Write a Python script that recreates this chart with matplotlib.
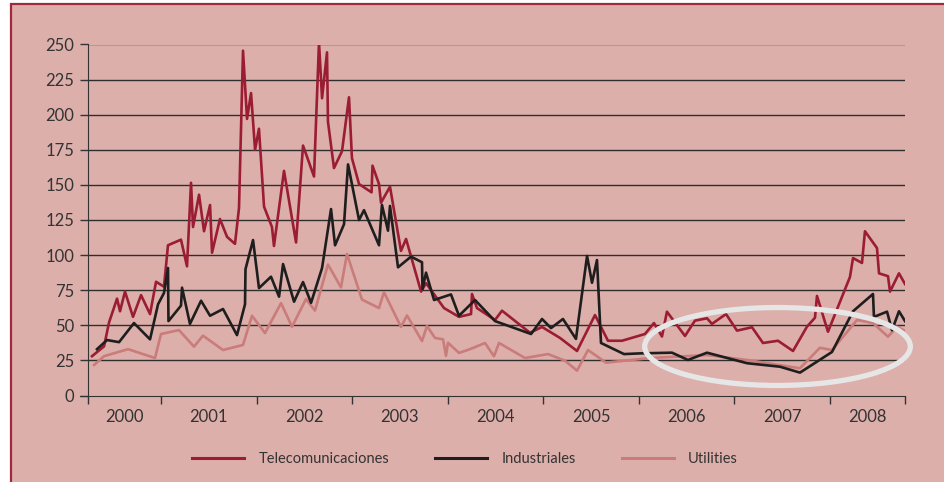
import numpy as np
import matplotlib
matplotlib.use("Agg")
import matplotlib.pyplot as plt
from matplotlib.patches import Ellipse, Rectangle
from matplotlib.lines import Line2D

# fechas en años decimales
tel_x = [2000.278, 2000.404, 2000.456, 2000.540, 2000.571, 2000.623, 2000.707, 2000.791,
         2000.885, 2000.948, 2001.031, 2001.073, 2001.209, 2001.272, 2001.314, 2001.335,
         2001.398, 2001.450, 2001.513, 2001.534, 2001.617, 2001.691, 2001.774, 2001.816,
         2001.858, 2001.900, 2001.942, 2001.984, 2002.025, 2002.078, 2002.161, 2002.182,
         2002.287, 2002.413, 2002.486, 2002.601, 2002.653, 2002.685, 2002.737, 2002.747,
         2002.810, 2002.894, 2002.967, 2002.998, 2003.072, 2003.203, 2003.213, 2003.281,
         2003.302, 2003.396, 2003.511, 2003.564, 2003.721, 2003.773, 2003.961, 2004.118,
         2004.244, 2004.254, 2004.306, 2004.495, 2004.568, 2004.861, 2004.987, 2005.175,
         2005.353, 2005.541, 2005.677, 2005.824, 2006.064, 2006.158, 2006.242, 2006.294,
         2006.483, 2006.587, 2006.713, 2006.765, 2006.912, 2007.027, 2007.184, 2007.299,
         2007.456, 2007.613, 2007.759, 2007.843, 2007.864, 2007.979, 2008.209, 2008.241,
         2008.335, 2008.366, 2008.492, 2008.513, 2008.607, 2008.628, 2008.722, 2008.785]
tel_y = [28, 35, 52, 69, 60, 74, 56, 71.5,
         58, 81, 77.5, 107, 111, 92, 151.5, 120,
         143, 117, 135.7, 101.7, 125.7, 113, 108, 133.5,
         245.6, 197, 215.4, 175, 190, 134.5, 120, 106.5,
         160, 109, 178, 156, 251.5, 211.7, 244.4, 195,
         162, 174, 212.4, 169, 150.6, 144.7, 163.7, 150.6,
         137.3, 148.7, 103, 111.5, 74, 80, 62.3, 56,
         58, 72.3, 62.3, 53.8, 60.4, 44.7, 48.8, 41,
         31.7, 57.3, 39, 39, 43.8, 51.6, 42, 59.7,
         42.4, 53.3, 55, 51, 58, 46.2, 48.6, 37.4,
         39, 31.7, 49, 55.4, 70.9, 45.4, 84.4, 97.9,
         94.4, 117, 105, 87, 85, 74, 87, 79.4]

ind_x = [2000.330, 2000.435, 2000.561, 2000.717, 2000.885, 2000.969, 2001.031, 2001.073,
         2001.078, 2001.209, 2001.220, 2001.303, 2001.419, 2001.513, 2001.649, 2001.795,
         2001.879, 2001.884, 2001.963, 2002.025, 2002.151, 2002.235, 2002.277, 2002.392,
         2002.486, 2002.570, 2002.685, 2002.779, 2002.821, 2002.915, 2002.957, 2003.072,
         2003.124, 2003.281, 2003.312, 2003.375, 2003.396, 2003.480, 2003.616, 2003.731,
         2003.736, 2003.773, 2003.857, 2004.034, 2004.118, 2004.233, 2004.286, 2004.495,
         2004.872, 2004.987, 2005.081, 2005.206, 2005.342, 2005.458, 2005.510, 2005.562,
         2005.604, 2005.845, 2006.012, 2006.347, 2006.514, 2006.713, 2007.132, 2007.477,
         2007.686, 2008.021, 2008.241, 2008.450, 2008.460, 2008.597, 2008.649, 2008.722,
         2008.785]
ind_y = [33, 39.5, 38, 51.6, 40, 65, 73, 90.8,
         53, 64, 76.8, 51, 67.5, 56.8, 61.6, 43,
         65, 90, 110.7, 76.5, 84.6, 70.4, 93.6, 66.8,
         80.8, 66, 90.8, 132.8, 107, 122, 164.6, 125,
         132, 107, 135.7, 117.4, 135, 91.3, 98.9, 94.9,
         75.8, 87.5, 68, 72, 56.8, 64.5, 68, 53,
         43.8, 54.5, 48, 54.5, 40.3, 99.4, 80.3, 96.5,
         37.4, 29.5, 30, 30.5, 25.3, 30.5, 23, 20.5,
         16.3, 31, 60, 72.3, 56, 59.7, 46.5, 60,
         53]

uti_x = [2000.299, 2000.404, 2000.655, 2000.937, 2001.000, 2001.188, 2001.345, 2001.439,
         2001.649, 2001.858, 2001.952, 2002.088, 2002.256, 2002.371, 2002.517, 2002.611,
         2002.747, 2002.883, 2002.946, 2003.103, 2003.281, 2003.333, 2003.511, 2003.574,
         2003.731, 2003.783, 2003.867, 2003.951, 2003.982, 2004.003, 2004.118, 2004.233,
         2004.390, 2004.484, 2004.537, 2004.809, 2005.049, 2005.227, 2005.353, 2005.468,
         2005.656, 2006.117, 2006.713, 2007.132, 2007.686, 2007.895, 2008.021, 2008.283,
         2008.450, 2008.607, 2008.701, 2008.785]
uti_y = [21.7, 28, 33, 26.7, 43.8, 46.6, 34.8, 42.6,
         32.4, 36, 56.8, 44.5, 65.8, 49, 68.7, 60.5,
         93.3, 77, 100.8, 68.3, 62.3, 73.6, 48.9, 57,
         38.8, 49.5, 41, 40, 28.3, 37.6, 30.3, 33,
         37.4, 28, 37.4, 26.7, 29.5, 24.8, 17.7, 32.4,
         23.4, 26.7, 28.8, 25.3, 19.4, 34, 32.4, 53.8,
         51.6, 41.9, 49, 46]

years = [2000, 2001, 2002, 2003, 2004, 2005, 2006, 2007, 2008]
yticks = [0, 25, 50, 75, 100, 125, 150, 175, 200, 225, 250]

x0, x1 = 2000.236, 2008.785
bg = '#DDAFAB'
red = '#9B1D33'
blk = '#1E1E1E'
pnk = '#C97C7A'
txt = '#333333'

plt.rcParams['font.family'] = ['Lato', 'DejaVu Sans']

fig = plt.figure(figsize=(9.45, 4.82), dpi=100, facecolor='white')
fig.patches.append(Rectangle((11/945, -0.1), 1.1, (482-4)/482 + 0.1, transform=fig.transFigure,
                             facecolor=bg, edgecolor='#A2283B', lw=1.6, zorder=-10))

ax = fig.add_axes([88/945, (482-395.5)/482, (905-88)/945, 351/482])
ax.set_facecolor('none')
ax.set_xlim(x0, x1)
ax.set_ylim(0, 250)

ax.plot(tel_x, tel_y, color=red, lw=1.9, zorder=3)
ax.plot(uti_x, uti_y, color=pnk, lw=1.9, zorder=2)
ax.plot(ind_x, ind_y, color=blk, lw=1.9, zorder=4)

ax.set_yticks(yticks)
ax.tick_params(axis='y', length=6, width=1, color=txt, labelsize=12, labelcolor=txt, pad=4)
for v in yticks[1:]:
    ax.axhline(v, color='#2E2E2E', lw=1.0, zorder=1)

# años: marcas en los límites, etiquetas al centro
bounds = [x0] + years[1:] + [x1]
ax.set_xticks(bounds)
ax.set_xticklabels([])
centers = [(bounds[i] + bounds[i+1]) / 2 for i in range(len(years))]
ax.set_xticks(centers, minor=True)
ax.set_xticklabels([str(y) for y in years], minor=True)
ax.tick_params(axis='x', which='major', length=6, width=1, color=txt)
ax.tick_params(axis='x', which='minor', length=0, labelsize=12, labelcolor=txt, pad=10)

for s in ['top', 'right']:
    ax.spines[s].set_visible(False)
ax.spines['left'].set_color(txt)
ax.spines['bottom'].set_color(txt)
ax.spines['bottom'].set_bounds(x0 - 8/95.57, x1)

ax.add_patch(Ellipse((2007.451, 34.9), 2.78, 55.5, fill=False, edgecolor='#E6E6E6',
                     lw=3.8, zorder=6, clip_on=False))

fs = 10.5
px = fs * 100 / 72
handles = [Line2D([], [], color=red, lw=2.2),
           Line2D([], [], color=blk, lw=2.2),
           Line2D([], [], color=pnk, lw=2.2)]
fig.legend(handles, ['Telecomunicaciones', 'Industriales', 'Utilities'],
           loc='center', bbox_to_anchor=(465/945, (482-459)/482), ncol=3, frameon=False,
           prop={'size': fs}, handlelength=52/px, handletextpad=14/px,
           columnspacing=46/px, labelcolor=txt)

fig.savefig('out.png', dpi=100, facecolor='white')
